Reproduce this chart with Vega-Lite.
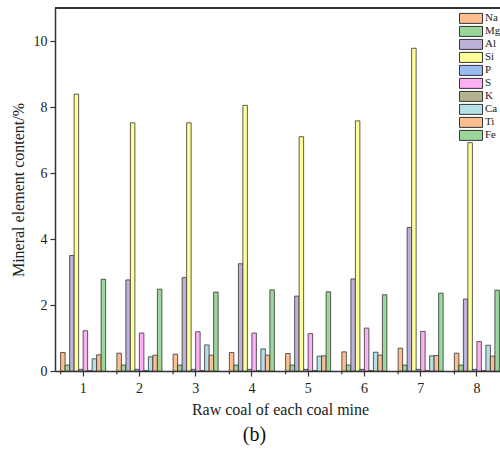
{
  "$schema": "https://vega.github.io/schema/vega-lite/v6.json",
  "width": 445,
  "height": 363,
  "autosize": {"type": "none"},
  "padding": {"left": 55, "top": 8, "right": 0, "bottom": 88},
  "background": "white",
  "config": {
    "view": {"stroke": null},
    "font": "Liberation Serif",
    "axis": {"grid": false, "domainColor": "#333", "domainWidth": 1.5, "tickColor": "#333", "tickWidth": 1.2, "labelFont": "Liberation Serif", "titleFont": "Liberation Serif", "labelColor": "#222", "titleColor": "#222", "titleFontWeight": "normal"}
  },
  "title": {"text": "(b)", "orient": "bottom", "fontSize": 20, "font": "Liberation Serif", "fontWeight": "normal", "color": "#111", "offset": 8, "dx": -23},
  "data": {"values": [
    {"mine": 1, "element": "Na", "value": 0.56}, {"mine": 1, "element": "Mg", "value": 0.18}, {"mine": 1, "element": "Al", "value": 3.5}, {"mine": 1, "element": "Si", "value": 8.39}, {"mine": 1, "element": "P", "value": 0.05}, {"mine": 1, "element": "S", "value": 1.22}, {"mine": 1, "element": "K", "value": 0.01}, {"mine": 1, "element": "Ca", "value": 0.37}, {"mine": 1, "element": "Ti", "value": 0.49}, {"mine": 1, "element": "Fe", "value": 2.78},
    {"mine": 2, "element": "Na", "value": 0.54}, {"mine": 2, "element": "Mg", "value": 0.18}, {"mine": 2, "element": "Al", "value": 2.76}, {"mine": 2, "element": "Si", "value": 7.52}, {"mine": 2, "element": "P", "value": 0.05}, {"mine": 2, "element": "S", "value": 1.15}, {"mine": 2, "element": "K", "value": 0.01}, {"mine": 2, "element": "Ca", "value": 0.43}, {"mine": 2, "element": "Ti", "value": 0.48}, {"mine": 2, "element": "Fe", "value": 2.48},
    {"mine": 3, "element": "Na", "value": 0.51}, {"mine": 3, "element": "Mg", "value": 0.18}, {"mine": 3, "element": "Al", "value": 2.83}, {"mine": 3, "element": "Si", "value": 7.52}, {"mine": 3, "element": "P", "value": 0.05}, {"mine": 3, "element": "S", "value": 1.19}, {"mine": 3, "element": "K", "value": 0.01}, {"mine": 3, "element": "Ca", "value": 0.79}, {"mine": 3, "element": "Ti", "value": 0.48}, {"mine": 3, "element": "Fe", "value": 2.39},
    {"mine": 4, "element": "Na", "value": 0.56}, {"mine": 4, "element": "Mg", "value": 0.18}, {"mine": 4, "element": "Al", "value": 3.25}, {"mine": 4, "element": "Si", "value": 8.05}, {"mine": 4, "element": "P", "value": 0.05}, {"mine": 4, "element": "S", "value": 1.15}, {"mine": 4, "element": "K", "value": 0.01}, {"mine": 4, "element": "Ca", "value": 0.67}, {"mine": 4, "element": "Ti", "value": 0.48}, {"mine": 4, "element": "Fe", "value": 2.46},
    {"mine": 5, "element": "Na", "value": 0.53}, {"mine": 5, "element": "Mg", "value": 0.18}, {"mine": 5, "element": "Al", "value": 2.27}, {"mine": 5, "element": "Si", "value": 7.1}, {"mine": 5, "element": "P", "value": 0.05}, {"mine": 5, "element": "S", "value": 1.13}, {"mine": 5, "element": "K", "value": 0.01}, {"mine": 5, "element": "Ca", "value": 0.45}, {"mine": 5, "element": "Ti", "value": 0.46}, {"mine": 5, "element": "Fe", "value": 2.4},
    {"mine": 6, "element": "Na", "value": 0.58}, {"mine": 6, "element": "Mg", "value": 0.18}, {"mine": 6, "element": "Al", "value": 2.79}, {"mine": 6, "element": "Si", "value": 7.58}, {"mine": 6, "element": "P", "value": 0.05}, {"mine": 6, "element": "S", "value": 1.3}, {"mine": 6, "element": "K", "value": 0.01}, {"mine": 6, "element": "Ca", "value": 0.57}, {"mine": 6, "element": "Ti", "value": 0.48}, {"mine": 6, "element": "Fe", "value": 2.31},
    {"mine": 7, "element": "Na", "value": 0.69}, {"mine": 7, "element": "Mg", "value": 0.18}, {"mine": 7, "element": "Al", "value": 4.35}, {"mine": 7, "element": "Si", "value": 9.78}, {"mine": 7, "element": "P", "value": 0.05}, {"mine": 7, "element": "S", "value": 1.2}, {"mine": 7, "element": "K", "value": 0.01}, {"mine": 7, "element": "Ca", "value": 0.46}, {"mine": 7, "element": "Ti", "value": 0.47}, {"mine": 7, "element": "Fe", "value": 2.36},
    {"mine": 8, "element": "Na", "value": 0.54}, {"mine": 8, "element": "Mg", "value": 0.18}, {"mine": 8, "element": "Al", "value": 2.18}, {"mine": 8, "element": "Si", "value": 6.92}, {"mine": 8, "element": "P", "value": 0.05}, {"mine": 8, "element": "S", "value": 0.89}, {"mine": 8, "element": "K", "value": 0.01}, {"mine": 8, "element": "Ca", "value": 0.78}, {"mine": 8, "element": "Ti", "value": 0.45}, {"mine": 8, "element": "Fe", "value": 2.45}
  ]},
  "layer": [
    {
      "mark": {"type": "bar", "stroke": "#333", "strokeWidth": 0.8},
      "encoding": {
        "x": {"field": "mine", "type": "ordinal", "scale": {"range": [0, 450], "paddingInner": 0.2, "paddingOuter": 0.1},
              "axis": {"title": "Raw coal of each coal mine", "labelAngle": 0, "labelFontSize": 14, "titleFontSize": 16, "tickSize": 5, "labelPadding": 5, "titlePadding": 6}},
        "xOffset": {"field": "element", "type": "nominal", "sort": ["Na", "Mg", "Al", "Si", "P", "S", "K", "Ca", "Ti", "Fe"], "scale": {"paddingInner": 0, "paddingOuter": 0}},
        "y": {"field": "value", "type": "quantitative", "scale": {"domain": [0, 11], "nice": false},
              "axis": {"title": "Mineral element content/%", "values": [0, 1, 2, 3, 4, 5, 6, 7, 8, 9, 10], "labelExpr": "datum.value % 2 === 0 ? datum.label : ''", "tickSize": {"condition": {"test": "datum.value % 2 === 0", "value": 5}, "value": 3}, "labelFontSize": 14, "titleFontSize": 16, "labelPadding": 3, "titlePadding": 7}},
        "color": {"field": "element", "type": "nominal", "sort": ["Na", "Mg", "Al", "Si", "P", "S", "K", "Ca", "Ti", "Fe"],
                  "scale": {"domain": ["Na", "Mg", "Al", "Si", "P", "S", "K", "Ca", "Ti", "Fe"], "range": ["#FDBF8F", "#9BD69B", "#BDB0D9", "#FFFF99", "#99BAF2", "#FDB0F3", "#B3B48F", "#B5E0E8", "#FDBF8F", "#9BD69B"]},
                  "legend": {"orient": "none", "legendX": 404, "legendY": 4, "title": null, "padding": 0, "symbolType": "M-1.92,-0.83H1.92V0.83H-1.92Z", "symbolSize": 144, "symbolOffset": 5.5, "symbolStrokeColor": "#333", "symbolStrokeWidth": 1, "symbolOpacity": 1, "labelFont": "Liberation Serif", "labelFontSize": 11, "labelColor": "#222", "labelOffset": 7.5, "clipHeight": 12.8, "rowPadding": 0}}
      }
    },
    {
      "transform": [{"filter": "datum.element == 'Na'"}],
      "mark": {"type": "rule", "color": "#333", "strokeWidth": 1.2},
      "encoding": {
        "x": {"field": "mine", "type": "ordinal", "bandPosition": 0},
        "y": {"datum": 0},
        "y2": {"datum": -0.1}
      }
    },
    {
      "mark": {"type": "rule", "color": "#333", "strokeWidth": 1.5},
      "encoding": {"y": {"datum": 11}}
    }
  ]
}
